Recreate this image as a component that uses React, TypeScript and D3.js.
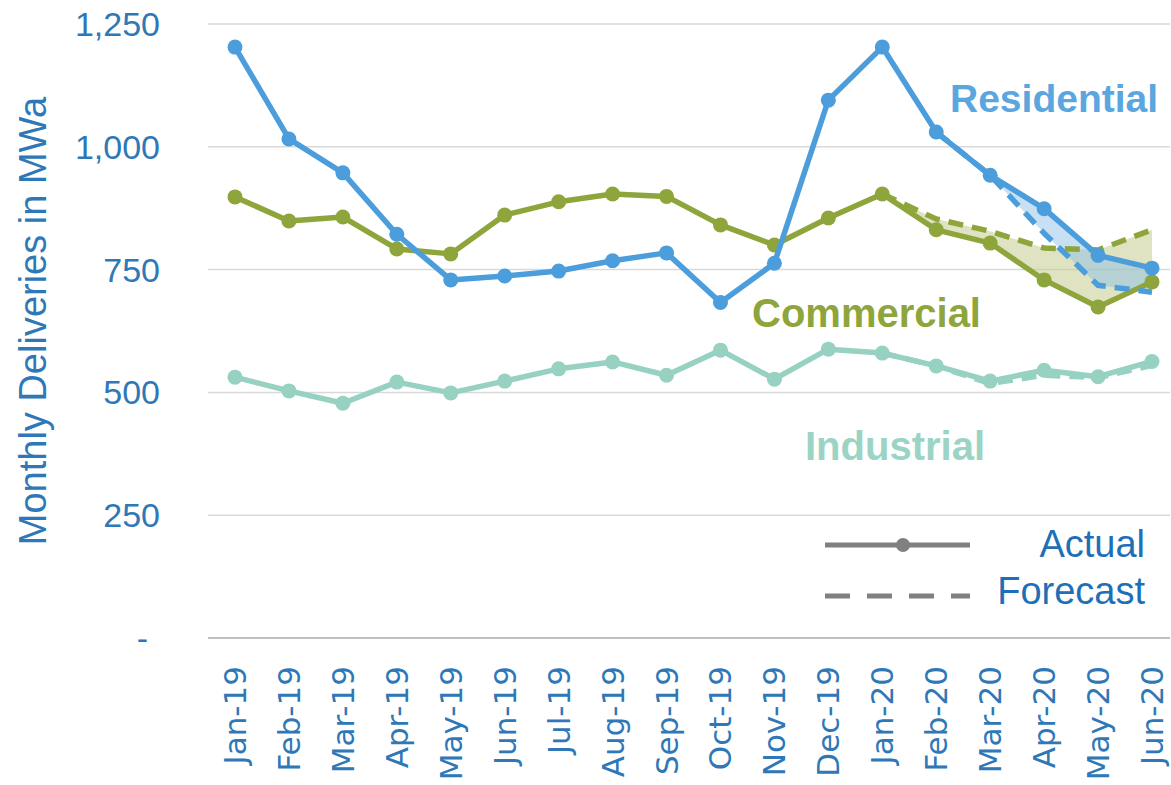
import React from "react";
import * as d3 from "d3";

const months = ["Jan-19","Feb-19","Mar-19","Apr-19","May-19","Jun-19","Jul-19","Aug-19","Sep-19","Oct-19","Nov-19","Dec-19","Jan-20","Feb-20","Mar-20","Apr-20","May-20","Jun-20"];
const residential = [1203,1016,947,822,729,737,747,768,784,683,763,1095,1203,1030,942,874,779,753];
const commercial = [898,849,857,792,782,861,888,904,899,841,800,855,904,831,804,729,674,725];
const industrial = [531,503,478,521,499,523,548,562,535,586,527,588,580,554,523,545,532,563];
const forecastMonths = ["Jan-20","Feb-20","Mar-20","Apr-20","May-20","Jun-20"];
const resForecast = [1203,1030,942,824,718,704];
const comForecast = [904,853,828,794,790,831];
const indForecast = [580,554,518,535,530,555];
const yTicks = [0,250,500,750,1000,1250];

const BLUE = "#4b9edb";
const OLIVE = "#8ea53b";
const TEAL = "#96d1c1";
const AXIS_TEXT = "#2f78b8";

export default function App() {
  const x = d3.scalePoint<string>().domain(months).range([235, 1152]);
  const y = d3.scaleLinear().domain([0, 1250]).range([638, 24]);

  const line = d3.line<[string, number]>().x(d => x(d[0])!).y(d => y(d[1]));
  const area = d3.area<[string, number, number]>().x(d => x(d[0])!).y0(d => y(d[1])).y1(d => y(d[2]));

  const zipA = (vals: number[]) => months.map((m, i) => [m, vals[i]] as [string, number]);
  const zipF = (vals: number[]) => forecastMonths.map((m, i) => [m, vals[i]] as [string, number]);
  const band = (actual: number[], fc: number[], from: number) =>
    forecastMonths.slice(from).map((m, i) => [m, actual[months.indexOf(m)], fc[i + from]] as [string, number, number]);

  const series = [
    { a: industrial, f: indForecast, c: TEAL, from: 0 },
    { a: commercial, f: comForecast, c: OLIVE, from: 0 },
    { a: residential, f: resForecast, c: BLUE, from: 1 },
  ];

  return (
    <svg width={1171} height={785} style={{ position: "absolute", left: 0, top: 0, background: "#fff" }}>
      {yTicks.map(t => (
        <line key={t} x1={208} x2={1170} y1={y(t)} y2={y(t)} stroke={t === 0 ? "#bfbfbf" : "#d9d9d9"} strokeWidth={t === 0 ? 2 : 1.5} />
      ))}
      {yTicks.map(t => (
        <text key={"l" + t} x={t === 0 ? 148 : 160} y={y(t) + 12} textAnchor="end" fontFamily="Liberation Sans, Arial, sans-serif" fontSize={34} fill={AXIS_TEXT}>
          {t === 0 ? "-" : d3.format(",")(t)}
        </text>
      ))}
      <text transform="translate(46,321) rotate(-90)" textAnchor="middle" fontFamily="Liberation Sans, Arial, sans-serif" fontSize={38} fill={AXIS_TEXT}>
        Monthly Deliveries in MWa
      </text>
      {months.map(m => (
        <text key={m} transform={`translate(${x(m)! + 11},666) rotate(-90)`} textAnchor="end" fontFamily="DejaVu Sans, sans-serif" fontSize={31} fill={AXIS_TEXT}>
          {m}
        </text>
      ))}

      {/* forecast bands */}
      <path d={area(band(commercial, comForecast, 0))!} fill="#c4cc8e" fillOpacity={0.55} />
      <path d={area(band(residential, resForecast, 2))!} fill="#8fc2ea" fillOpacity={0.5} />

      {series.map((s, k) => (
        <g key={k}>
          <path d={line(zipF(s.f).slice(s.from))!} fill="none" stroke={s.c} strokeWidth={5.5} strokeDasharray="15 9" />
          <path d={line(zipA(s.a))!} fill="none" stroke={s.c} strokeWidth={5.5} strokeLinejoin="round" />
          {zipA(s.a).map(d => (
            <circle key={d[0]} cx={x(d[0])} cy={y(d[1])} r={7.5} fill={s.c} />
          ))}
        </g>
      ))}

      <text x={950} y={112} fontFamily="Liberation Sans, Arial, sans-serif" fontWeight="bold" fontSize={39} fill="#5aa6df">Residential</text>
      <text x={752} y={327} fontFamily="Liberation Sans, Arial, sans-serif" fontWeight="bold" fontSize={40} fill="#8ea53b">Commercial</text>
      <text x={805} y={460} fontFamily="Liberation Sans, Arial, sans-serif" fontWeight="bold" fontSize={40} fill="#9bd4c5">Industrial</text>

      {/* legend */}
      <line x1={825} x2={970} y1={545} y2={545} stroke="#808080" strokeWidth={5} />
      <circle cx={903} cy={545} r={7} fill="#808080" />
      <line x1={825} x2={970} y1={596} y2={596} stroke="#808080" strokeWidth={5} strokeDasharray="25 17" />
      <text x={1145} y={557} textAnchor="end" fontFamily="Liberation Sans, Arial, sans-serif" fontSize={38} fill="#1f6fb8">Actual</text>
      <text x={1145} y={604} textAnchor="end" fontFamily="Liberation Sans, Arial, sans-serif" fontSize={38} fill="#1f6fb8">Forecast</text>
    </svg>
  );
}
